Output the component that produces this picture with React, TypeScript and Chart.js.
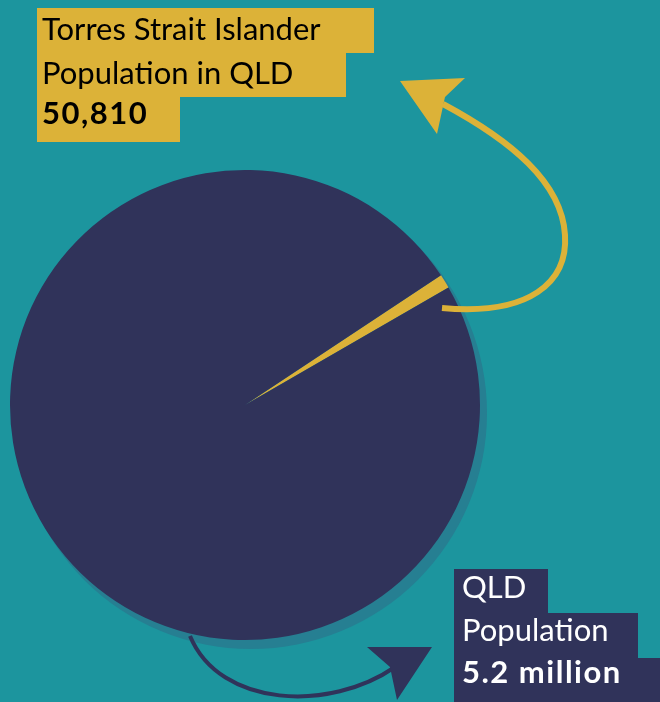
import React, { useEffect, useRef } from "react";
import { Chart, registerables } from "chart.js";

Chart.register(...registerables);

const categories = ["Torres Strait Islander Population in QLD", "QLD Population"];
const values = [50810, 5200000];
const sliceColors = ["#dcb238", "#30335a"];
const topLabelLines = ["Torres Strait Islander", "Population in QLD", "50,810"];
const bottomLabelLines = ["QLD", "Population", "5.2 million"];

const BG = "#1c959e";
const SHADOW = "#267f92";
const FONT = "Lato, 'Noto Sans', sans-serif";

function drawBoxes(ctx: CanvasRenderingContext2D, lines: string[], x: number, textOffset: number, tops: number[], rights: number[], bottoms: number[], baselines: number[], bg: string, fg: string) {
  lines.forEach((t, i) => {
    ctx.fillStyle = bg;
    ctx.fillRect(x, tops[i], rights[i] - x, bottoms[i] - tops[i]);
  });
  lines.forEach((t, i) => {
    ctx.fillStyle = fg;
    const bold = i === 2;
    ctx.font = (bold ? "bold 31px " : "31px ") + FONT;
    (ctx as any).letterSpacing = bold ? "1.5px" : "0px";
    ctx.textBaseline = "alphabetic";
    ctx.textAlign = "left";
    ctx.fillText(t, x + textOffset, baselines[i]);
  });
  (ctx as any).letterSpacing = "0px";
}

const decor = {
  id: "decor",
  beforeDatasetsDraw(chart: any) {
    const arc = chart.getDatasetMeta(0).data[0];
    if (!arc) return;
    const { x, y, outerRadius } = arc;
    const ctx = chart.ctx;
    ctx.save();
    ctx.fillStyle = SHADOW;
    ctx.beginPath();
    ctx.arc(x + 6, y + 8, outerRadius + 1, 0, Math.PI * 2);
    ctx.fill();
    ctx.restore();
  },
  afterDatasetsDraw(chart: any) {
    const arc = chart.getDatasetMeta(0).data[0];
    if (!arc) return;
    const cx = arc.x, cy = arc.y;
    const P = (px: number, py: number): [number, number] => [cx + (px - 245), cy + (py - 405)];
    const ctx = chart.ctx;
    ctx.save();
    // gold arrow
    ctx.strokeStyle = sliceColors[0];
    ctx.lineWidth = 6;
    ctx.lineCap = "butt";
    ctx.beginPath();
    ctx.moveTo(...P(442, 308));
    ctx.bezierCurveTo(...P(530, 316), ...P(568, 282), ...P(565, 235));
    ctx.bezierCurveTo(...P(562, 182), ...P(510, 140), ...P(443, 104));
    ctx.stroke();
    ctx.fillStyle = sliceColors[0];
    ctx.beginPath();
    ctx.moveTo(...P(400, 81));
    ctx.lineTo(...P(465, 78));
    ctx.lineTo(...P(445, 97));
    ctx.lineTo(...P(437, 134));
    ctx.closePath();
    ctx.fill();
    // navy arrow
    ctx.strokeStyle = sliceColors[1];
    ctx.lineWidth = 4;
    ctx.beginPath();
    ctx.moveTo(...P(190, 636));
    ctx.bezierCurveTo(...P(220, 708), ...P(330, 712), ...P(395, 667));
    ctx.stroke();
    ctx.fillStyle = sliceColors[1];
    ctx.beginPath();
    ctx.moveTo(...P(367, 647));
    ctx.lineTo(...P(432, 647));
    ctx.lineTo(...P(397, 700));
    ctx.lineTo(...P(390, 667));
    ctx.closePath();
    ctx.fill();
    ctx.restore();
  },
  afterDraw(chart: any) {
    const ctx = chart.ctx;
    ctx.save();
    drawBoxes(ctx, topLabelLines, 37, 5, [8, 53, 97], [374, 346, 180], [53, 97, 142], [40, 84, 124], sliceColors[0], "#000000");
    drawBoxes(ctx, bottomLabelLines, 454, 8, [569, 613, 658], [548, 638, 660], [613, 658, 702], [598, 641, 683], sliceColors[1], "#ffffff");
    ctx.restore();
  },
};

export default function App() {
  const ref = useRef<HTMLCanvasElement>(null);
  useEffect(() => {
    document.body.style.margin = "0";
    const chart = new Chart(ref.current!, {
      type: "pie",
      data: {
        labels: categories,
        datasets: [
          {
            data: values,
            backgroundColor: sliceColors,
            borderWidth: 0,
          },
        ],
      },
      options: {
        animation: false,
        responsive: false,
        rotation: 56.5,
        layout: { padding: { left: 10, right: 180, top: 170, bottom: 62 } },
        plugins: { legend: { display: false }, tooltip: { enabled: false } },
      },
      plugins: [decor],
    });
    return () => chart.destroy();
  }, []);
  return (
    <div style={{ width: 660, height: 702, background: BG, overflow: "hidden" }}>
      <canvas ref={ref} width={660} height={702} style={{ display: "block" }} />
    </div>
  );
}
